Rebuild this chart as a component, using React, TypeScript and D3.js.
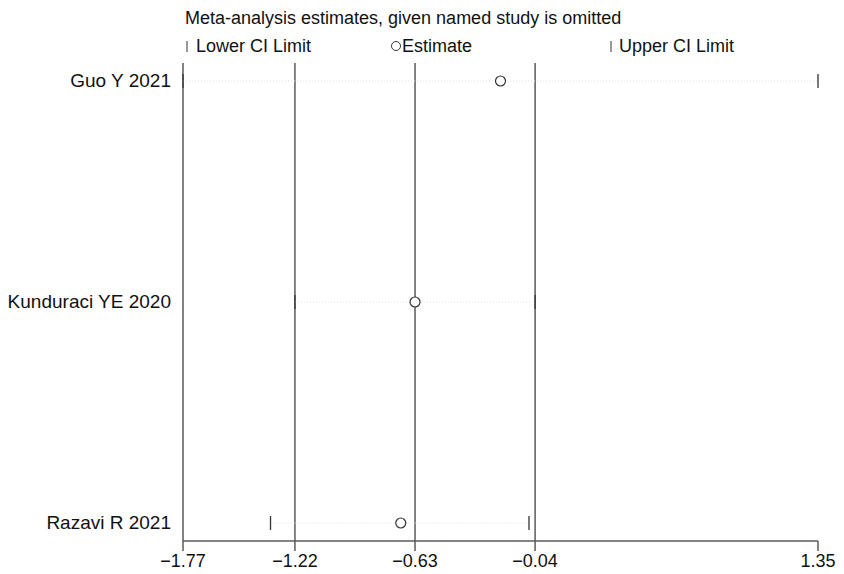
import React from "react";
import * as d3 from "d3";

const studies = ["Guo Y 2021", "Kunduraci YE 2020", "Razavi R 2021"];
const lowerCI = [-1.77, -1.22, -1.34];
const estimate = [-0.21, -0.63, -0.70];
const upperCI = [1.35, -0.04, -0.07];
const tickValues = [-1.77, -1.22, -0.63, -0.04, 1.35];
const refLines = [-1.77, -1.22, -0.63, -0.04];

const W = 844;
const H = 574;
const font = "'Liberation Sans', Arial, sans-serif";
const fs = 18;

const App = () => {
  const x = d3.scaleLinear().domain([-1.77, 1.35]).range([183, 818]);
  const y = d3.scalePoint<string>().domain(studies).range([81, 523]);
  const axisY = 541;
  const topY = 63;
  const lineColor = "#5a5a5a";

  return (
    <svg
      width={W}
      height={H}
      style={{ position: "absolute", left: 0, top: 0, background: "#fff" }}
      fontFamily={font}
    >
      <text x={185} y={24} fontSize={fs} fill="#111">
        Meta-analysis estimates, given named study is omitted
      </text>
      {/* legend */}
      <g fontSize={fs} fill="#111">
        <line x1={187} x2={187} y1={41} y2={52} stroke="#333" strokeWidth={1} />
        <text x={196} y={52}>Lower CI Limit</text>
        <circle cx={396} cy={46} r={4.5} fill="none" stroke="#333" strokeWidth={1} />
        <text x={402} y={52}>Estimate</text>
        <line x1={611} x2={611} y1={41} y2={52} stroke="#333" strokeWidth={1} />
        <text x={619} y={52}>Upper CI Limit</text>
      </g>

      {/* reference vertical lines */}
      {refLines.map((v) => (
        <line
          key={v}
          x1={x(v)}
          x2={x(v)}
          y1={topY}
          y2={axisY}
          stroke={lineColor}
          strokeWidth={1.5}
        />
      ))}

      {/* study rows */}
      {studies.map((s, i) => {
        const yy = y(s) as number;
        return (
          <g key={s}>
            <text x={171} y={yy + 6} textAnchor="end" fontSize={19} fill="#111">
              {s}
            </text>
            <line
              x1={x(lowerCI[i])}
              x2={x(upperCI[i])}
              y1={yy}
              y2={yy}
              stroke="#e2e2e2"
              strokeWidth={1}
              strokeDasharray="1,2"
            />
            <line
              x1={x(lowerCI[i])}
              x2={x(lowerCI[i])}
              y1={yy - 7}
              y2={yy + 7}
              stroke="#333"
              strokeWidth={1.3}
            />
            <line
              x1={x(upperCI[i])}
              x2={x(upperCI[i])}
              y1={yy - 7}
              y2={yy + 7}
              stroke="#333"
              strokeWidth={1.3}
            />
            <circle
              cx={x(estimate[i])}
              cy={yy}
              r={5}
              fill="#fff"
              stroke="#333"
              strokeWidth={1.2}
            />
          </g>
        );
      })}

      {/* x axis */}
      <line x1={x(-1.77)} x2={x(1.35)} y1={axisY} y2={axisY} stroke={lineColor} strokeWidth={1.5} />
      {tickValues.map((v) => (
        <g key={v}>
          <line x1={x(v)} x2={x(v)} y1={axisY} y2={axisY + 10} stroke={lineColor} strokeWidth={1.5} />
          <text x={x(v)} y={567} textAnchor="middle" fontSize={fs} fill="#111">
            {d3.format(".2f")(v)}
          </text>
        </g>
      ))}
    </svg>
  );
};

export default App;
